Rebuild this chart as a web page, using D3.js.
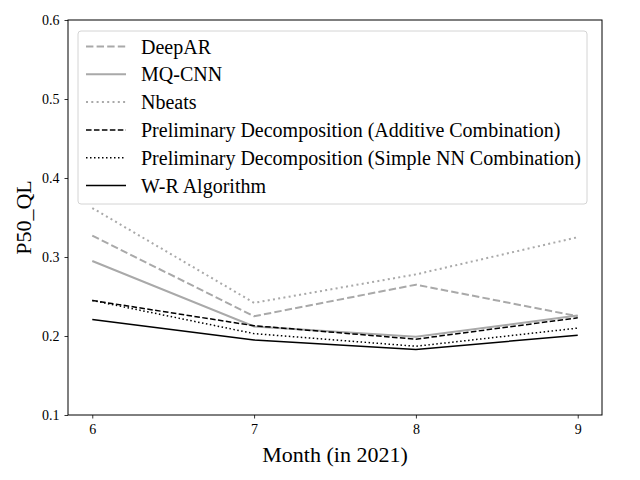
<!DOCTYPE html>
<html>
<head>
<meta charset="utf-8">
<script src="https://cdn.jsdelivr.net/npm/d3@7"></script>
<style>
  body { margin: 0; background: #fff; }
  svg text { font-family: "Liberation Serif", "Times New Roman", Times, serif !important; }
</style>
</head>
<body>
<div id="chart"></div>
<script>
// data
const months = [6, 7, 8, 9];
const deepAR   = [0.327, 0.225, 0.265, 0.225];
const mqCNN    = [0.295, 0.212, 0.199, 0.226];
const nbeats   = [0.362, 0.242, 0.278, 0.325];
const additive = [0.245, 0.213, 0.196, 0.223];
const simpleNN = [0.245, 0.203, 0.187, 0.210];
const wrAlgo   = [0.221, 0.195, 0.183, 0.201];
const yTicks = [0.1, 0.2, 0.3, 0.4, 0.5, 0.6];

const series = [
  {name: "DeepAR", values: deepAR, color: "#a9a9a9", width: 2, dash: "7.4,3.2"},
  {name: "MQ-CNN", values: mqCNN, color: "#a9a9a9", width: 2, dash: null},
  {name: "Nbeats", values: nbeats, color: "#a9a9a9", width: 2, dash: "2,3.3"},
  {name: "Preliminary Decomposition (Additive Combination)", values: additive, color: "#000", width: 1.5, dash: "5.55,2.4"},
  {name: "Preliminary Decomposition (Simple NN Combination)", values: simpleNN, color: "#000", width: 1.5, dash: "1.5,2.5"},
  {name: "W-R Algorithm", values: wrAlgo, color: "#000", width: 1.5, dash: null}
];

const width = 640, height = 480;
const margin = {top: 20, right: 38, bottom: 65, left: 68};

const svg = d3.select("#chart")
  .append("svg")
    .attr("width", width)
    .attr("height", height);

// x has matplotlib style 5% padding
const x = d3.scaleLinear()
  .domain([5.85, 9.15])
  .range([margin.left, width - margin.right]);
const y = d3.scaleLinear()
  .domain([0.1, 0.6])
  .range([height - margin.bottom, margin.top]);

// axes
const xAxis = svg.append("g")
  .attr("transform", `translate(0,${height - margin.bottom})`)
  .call(d3.axisBottom(x).tickValues(months).tickFormat(d3.format("d")).tickSizeOuter(0).tickSize(3.5).tickPadding(6));
const yAxis = svg.append("g")
  .attr("transform", `translate(${margin.left},0)`)
  .call(d3.axisLeft(y).tickValues(yTicks).tickFormat(d3.format(".1f")).tickSizeOuter(0).tickSize(3.5).tickPadding(5));

[xAxis, yAxis].forEach(function(g) {
  g.attr("font-family", null).attr("font-size", null);
  g.select(".domain").remove();
  g.selectAll("line").attr("stroke", "#000").attr("stroke-width", 0.8);
  g.selectAll("text")
    .style("font-size", "14px")
    .attr("fill", "#000");
});

// frame
svg.append("rect")
  .attr("x", margin.left)
  .attr("y", margin.top)
  .attr("width", width - margin.left - margin.right)
  .attr("height", height - margin.top - margin.bottom)
  .attr("fill", "none")
  .attr("stroke", "#000")
  .attr("stroke-width", 1);

// lines
const line = d3.line()
  .x((d, i) => x(months[i]))
  .y(d => y(d));

svg.append("g")
  .selectAll("path")
  .data(series)
  .join("path")
    .attr("d", d => line(d.values))
    .attr("fill", "none")
    .attr("stroke", d => d.color)
    .attr("stroke-width", d => d.width)
    .attr("stroke-dasharray", d => d.dash);

// axis labels
svg.append("text")
  .attr("x", (margin.left + width - margin.right) / 2)
  .attr("y", 462)
  .attr("text-anchor", "middle")
  .style("font-size", "22px")
  .text("Month (in 2021)");

svg.append("text")
  .attr("transform", `translate(31,${(margin.top + height - margin.bottom) / 2}) rotate(-90)`)
  .attr("text-anchor", "middle")
  .style("font-size", "22px")
  .text("P50_QL");

// legend
const legend = svg.append("g")
  .attr("transform", "translate(78,31)");

legend.append("rect")
  .attr("width", 509)
  .attr("height", 173)
  .attr("rx", 3)
  .attr("fill", "#fff")
  .attr("fill-opacity", 0.8)
  .attr("stroke", "#d4d4d4")
  .attr("stroke-width", 1);

const item = legend.selectAll(".item")
  .data(series)
  .join("g")
    .attr("class", "item")
    .attr("transform", (d, i) => `translate(0,${15.5 + i * 27.8})`);

item.append("line")
  .attr("x1", 8)
  .attr("x2", 48)
  .attr("stroke", d => d.color)
  .attr("stroke-width", d => d.width)
  .attr("stroke-dasharray", d => d.dash);

item.append("text")
  .attr("x", 63)
  .attr("dy", "0.35em")
  .style("font-size", "20px")
  .text(d => d.name);
</script>
</body>
</html>
